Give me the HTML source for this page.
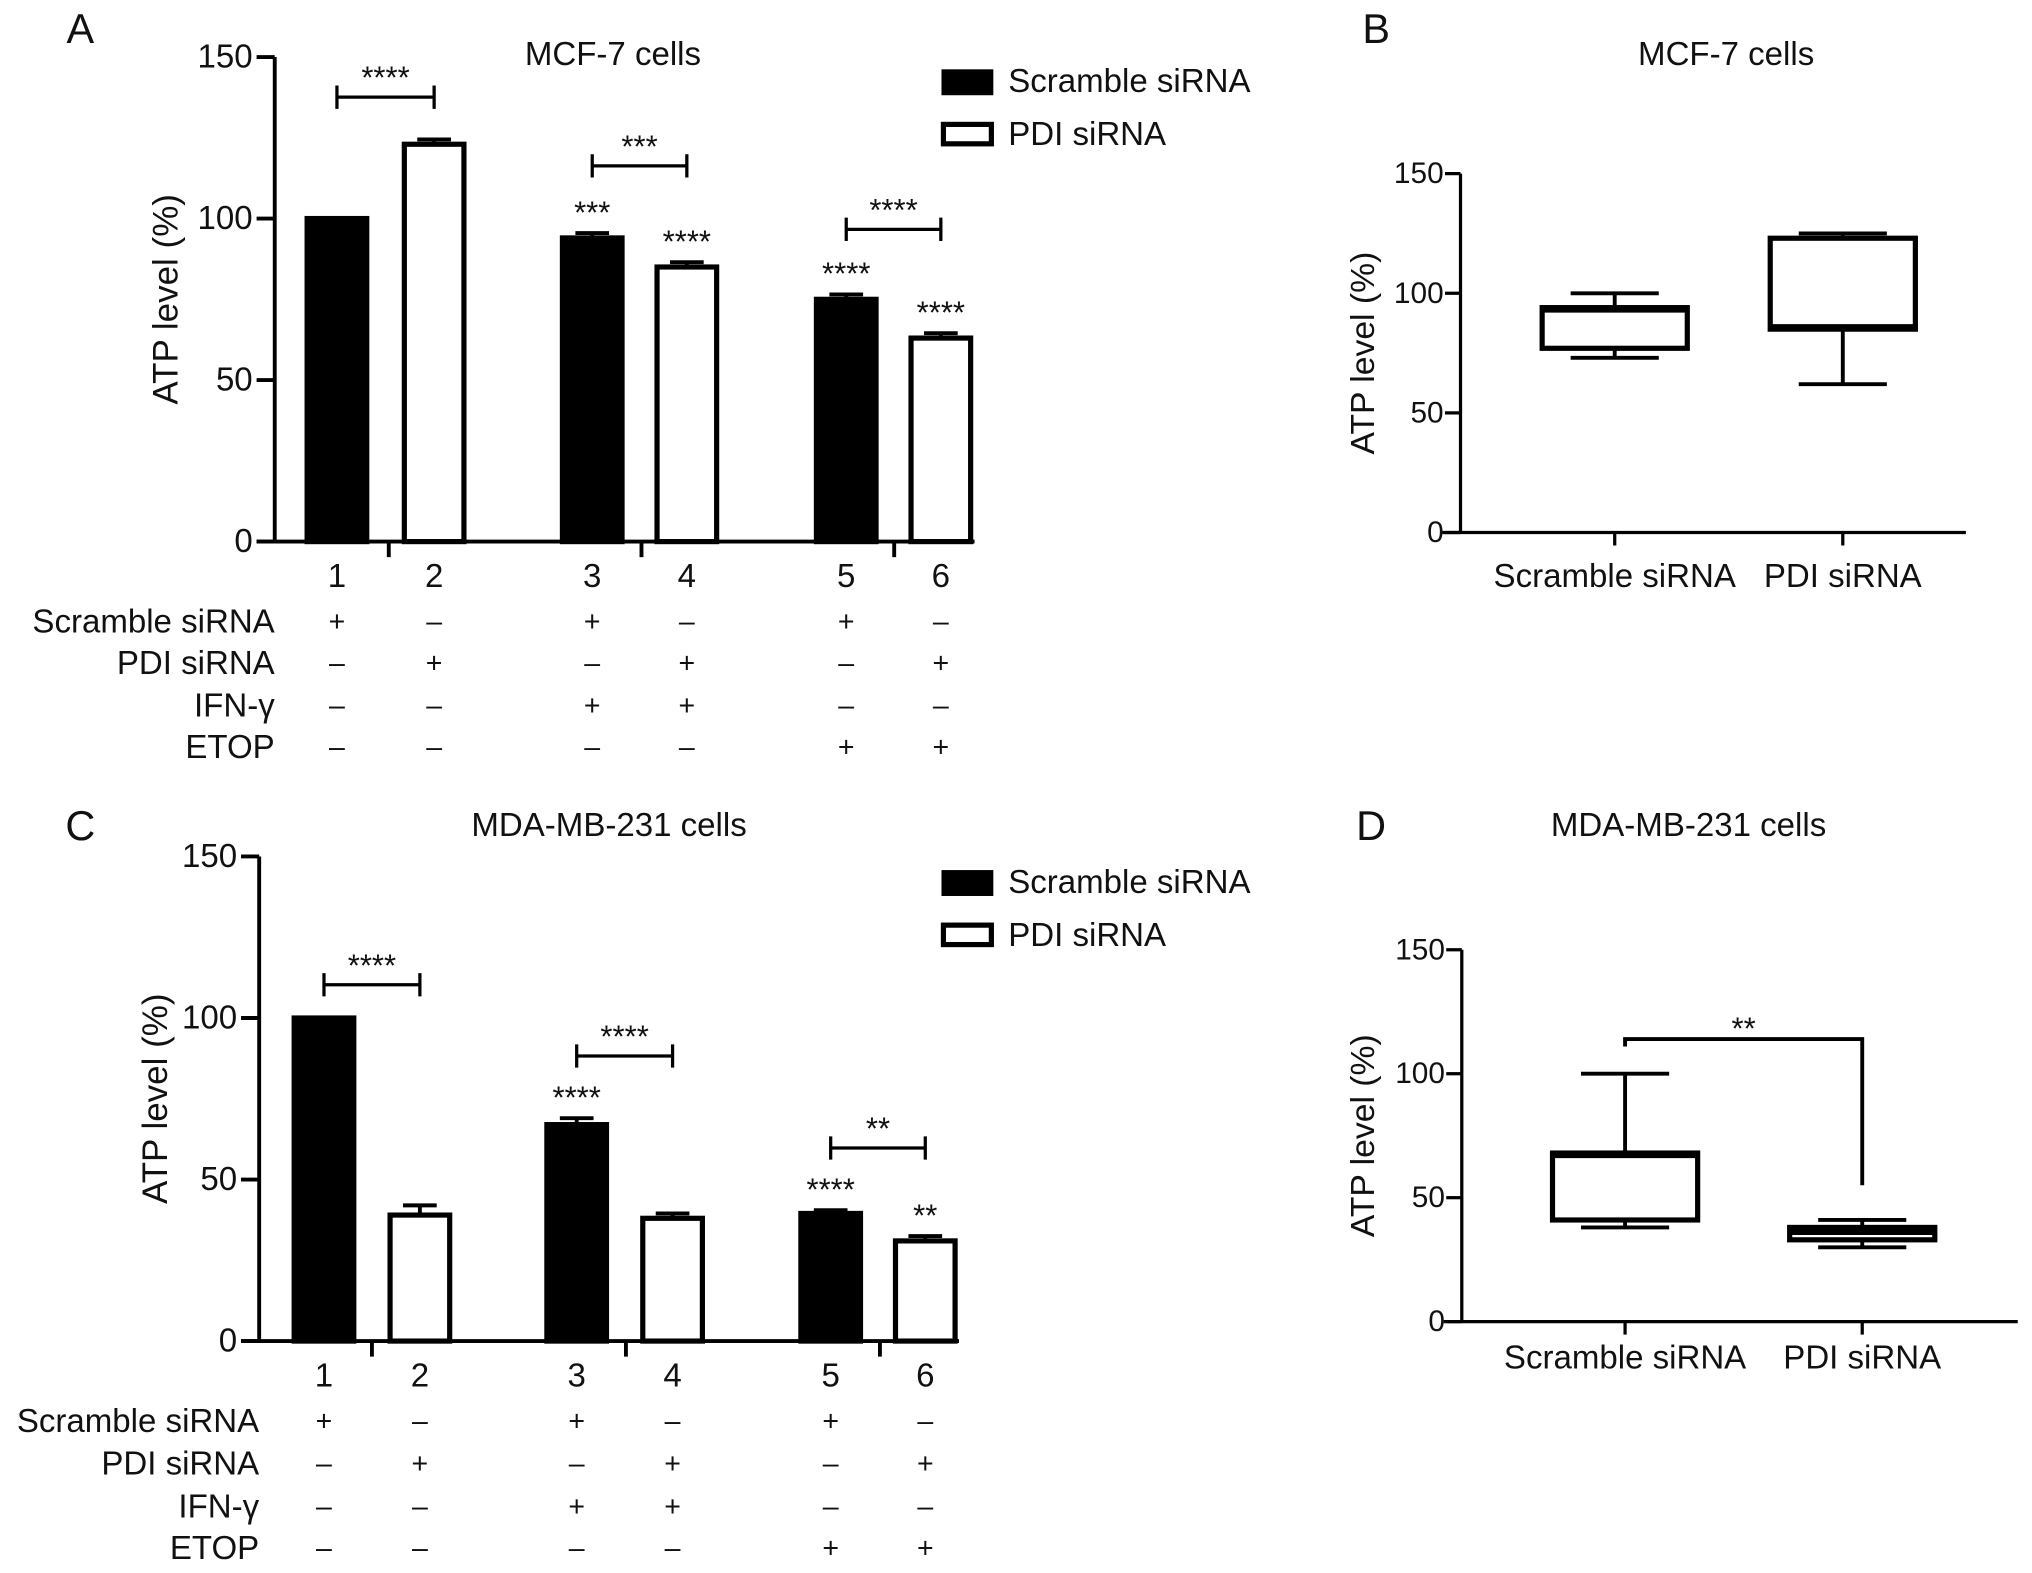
<!DOCTYPE html>
<html><head><meta charset="utf-8"><style>
html,body{margin:0;padding:0;background:#fff;}
svg{display:block;font-family:"Liberation Sans",sans-serif;}
</style></head><body>
<svg id="fig" width="2032" height="1573" viewBox="0 0 1568 1214" preserveAspectRatio="none"></svg>
<script>
// Panel A data
const categoriesA = ["1","2","3","4","5","6"];
const valuesA = [100,123,94,85,75,63];
const errorsA = [0,1.5,1.5,1.5,1.5,1.5];
const starsAboveA = ["","","***","****","****","****"];
// Panel C data
const categoriesC = ["1","2","3","4","5","6"];
const valuesC = [100,39,67,38,39.5,31];
const errorsC = [0,3,2,1.5,1,1.5];
const starsAboveC = ["","","****","","****","**"];
const yTicks = [0,50,100,150];
const rowLabels = ["Scramble siRNA","PDI siRNA","IFN-\u03b3","ETOP"];
const rowSigns = [["+","\u2013","+","\u2013","+","\u2013"],["\u2013","+","\u2013","+","\u2013","+"],["\u2013","\u2013","+","+","\u2013","\u2013"],["\u2013","\u2013","\u2013","\u2013","+","+"]];
// Box plot data [whiskerLow, q1, median, q3, whiskerHigh]
const boxCategories = ["Scramble siRNA","PDI siRNA"];
const boxB = [[73,77,93,94,100],[62,85,86,123,125]];
const boxD = [[38,41,67,68,100],[30,33,36,38,41]];

const FS=25.5;
const NS="http://www.w3.org/2000/svg";
const svg=document.getElementById('fig');
function el(tag,attrs,parent,text){const e=document.createElementNS(NS,tag);for(const k in attrs)e.setAttribute(k,attrs[k]);if(text!==undefined)e.textContent=text;(parent||svg).appendChild(e);return e;}
function txt(x,y,s,size,anchor,parent,name){const t=el('text',{x:x,y:y,'font-size':size,'text-anchor':anchor||'middle','dominant-baseline':'central',fill:'#111'},parent,s);

return t;}

function barPanel(o){
  const g=el('g',{});
  
  
  const y=v=>o.y0-(v/150)*(o.y0-o.y150);
  txt(o.letterX,22+o.dy,o.letter,32,'middle',g,'panel-letter');
  txt(o.titleX,o.titleY,o.title,FS,'middle',g,'chart-title');
  const yl=txt(o.ylabX,(o.y0+o.y150)/2,'ATP level (%)',27,'middle',g,'y-axis-title');
  yl.setAttribute('transform',`rotate(-90 ${o.ylabX} ${(o.y0+o.y150)/2})`);
  el('line',{x1:o.ax,y1:o.y150,x2:o.ax,y2:o.y0,stroke:'#000','stroke-width':3},g);
  el('line',{x1:o.ax-14,y1:o.y0,x2:o.xEnd,y2:o.y0,stroke:'#000','stroke-width':3},g);
  yTicks.forEach(t=>{el('line',{x1:o.ax-14,y1:y(t),x2:o.ax,y2:y(t),stroke:'#000','stroke-width':3},g);
    txt(o.ax-17,y(t),String(t),FS,'end',g,'y-tick-label');});
  o.seps.forEach(s=>el('line',{x1:s,y1:o.y0,x2:s,y2:o.y0+12,stroke:'#000','stroke-width':3},g));
  o.values.forEach((v,i)=>{
    const cx=o.centers[i],w=46,black=i%2===0;
    const r=el('rect',{x:cx-w/2,y:y(v),width:w,height:o.y0-y(v),fill:black?'#000':'#fff',stroke:'#000','stroke-width':4},g);
    
    
    if(o.errs[i]>0){el('line',{x1:cx,y1:y(v),x2:cx,y2:y(v+o.errs[i]),stroke:'#000','stroke-width':3},g);
      el('line',{x1:cx-13,y1:y(v+o.errs[i]),x2:cx+13,y2:y(v+o.errs[i]),stroke:'#000','stroke-width':3},g);}
    txt(cx,o.y0+27,o.cats[i],FS,'middle',g,'x-tick-label');
    if(o.stars[i])txt(cx,y(v+o.errs[i])-16,o.stars[i],24,'middle',g,'significance-stars');
  });
  rowLabels.forEach((lab,r)=>{const yy=o.rowY[r];txt(o.ax,yy,lab,FS,'end',g,'condition-label');
    rowSigns[r].forEach((s,i)=>txt(o.centers[i],yy,s,22,'middle',g,'condition-sign'));});
  o.brackets.forEach(b=>{const x1=o.centers[b[0]],x2=o.centers[b[1]],yy=b[2];
    el('path',{d:`M${x1} ${yy-9}V${yy+9}M${x1} ${yy}H${x2}M${x2} ${yy-9}V${yy+9}`,stroke:'#000','stroke-width':2.5,fill:'none'},g);
    txt((x1+x2)/2,yy-15,b[3],24,'middle',g,'significance-stars');});
  const lg=el('g',{},g);
  
  
  el('rect',{x:728,y:o.legY-8,width:37,height:17,fill:'#000',stroke:'#000','stroke-width':3},lg);
  txt(778,o.legY,'Scramble siRNA',FS,'start',lg,'legend-entry');
  el('rect',{x:728,y:o.legY+33,width:37,height:15,fill:'#fff',stroke:'#000','stroke-width':4},lg);
  txt(778,o.legY+41,'PDI siRNA',FS,'start',lg,'legend-entry');
}
barPanel({name:'panel-a',letter:'A',letterX:62,dy:0,title:'MCF-7 cells',titleX:473,titleY:42,ylabX:128,ax:212,y0:418,y150:44,xEnd:752,
  cats:categoriesA,values:valuesA,errs:errorsA,stars:starsAboveA,centers:[260,335,457,530,653,726],seps:[300,495,690],
  rowY:[480,512,545,577],brackets:[[0,1,75,'****'],[2,3,128,'***'],[4,5,177,'****']],legY:63});
barPanel({name:'panel-c',letter:'C',letterX:62,dy:615,title:'MDA-MB-231 cells',titleX:470,titleY:637,ylabX:120,ax:200,y0:1035,y150:661,xEnd:740,
  cats:categoriesC,values:valuesC,errs:errorsC,stars:starsAboveC,centers:[250,324,445,519,641,714],seps:[287,483,679],
  rowY:[1097,1130,1163,1195],brackets:[[0,1,760,'****'],[2,3,815,'****'],[4,5,886,'**']],legY:681});

function boxPanel(o){
  const g=el('g',{});
  
  
  const y=v=>o.y0-(v/150)*(o.y0-o.y150);
  txt(o.letterX,o.letterY,o.letter,32,'middle',g,'panel-letter');
  txt(o.titleX,o.titleY,o.title,FS,'middle',g,'chart-title');
  const yl=txt(o.ylabX,(o.y0+o.y150)/2,'ATP level (%)',26,'middle',g,'y-axis-title');
  yl.setAttribute('transform',`rotate(-90 ${o.ylabX} ${(o.y0+o.y150)/2})`);
  el('line',{x1:o.ax,y1:o.y150,x2:o.ax,y2:o.y0,stroke:'#000','stroke-width':2.5},g);
  el('line',{x1:o.ax-14,y1:o.y0,x2:o.xEnd,y2:o.y0,stroke:'#000','stroke-width':2.5},g);
  yTicks.forEach(t=>{el('line',{x1:o.ax-12,y1:y(t),x2:o.ax,y2:y(t),stroke:'#000','stroke-width':2.5},g);
    txt(o.ax-13,y(t),String(t),23,'end',g,'y-tick-label');});
  o.data.forEach((d,i)=>{const cx=o.centers[i],w=112;
    const bg=el('g',{},g);
    
    
    el('line',{x1:cx,y1:o.y0,x2:cx,y2:o.y0+10,stroke:'#000','stroke-width':2.5},bg);
    el('line',{x1:cx,y1:y(d[0]),x2:cx,y2:y(d[4]),stroke:'#000','stroke-width':3},bg);
    el('line',{x1:cx-34,y1:y(d[0]),x2:cx+34,y2:y(d[0]),stroke:'#000','stroke-width':3},bg);
    el('line',{x1:cx-34,y1:y(d[4]),x2:cx+34,y2:y(d[4]),stroke:'#000','stroke-width':3},bg);
    el('rect',{x:cx-w/2,y:y(d[3]),width:w,height:y(d[1])-y(d[3]),fill:'#fff',stroke:'#000','stroke-width':4},bg);
    el('line',{x1:cx-w/2,y1:y(d[2]),x2:cx+w/2,y2:y(d[2]),stroke:'#000','stroke-width':4},bg);
    txt(cx,o.labY,boxCategories[i],FS,'middle',g,'x-tick-label');});
  if(o.bracket){const b=o.bracket;
    el('path',{d:`M${o.centers[0]} ${y(b[0])}V${y(b[1])}H${o.centers[1]}V${y(b[2])}`,stroke:'#000','stroke-width':3,fill:'none'},g);
    txt((o.centers[0]+o.centers[1])/2,y(b[1])-8,'**',24,'middle',g,'significance-stars');}
}
boxPanel({name:'panel-b',letter:'B',letterX:1062,letterY:22,title:'MCF-7 cells',titleX:1332,titleY:42,ylabX:1052,ax:1127,y0:411,y150:134,xEnd:1517,
  data:boxB,centers:[1246,1422],labY:445});
boxPanel({name:'panel-d',letter:'D',letterX:1058,letterY:637,title:'MDA-MB-231 cells',titleX:1303,titleY:637,ylabX:1052,ax:1128,y0:1020,y150:733,xEnd:1557,
  data:boxD,centers:[1254,1437],labY:1048,bracket:[111,114,55]});
</script>
</body></html>
